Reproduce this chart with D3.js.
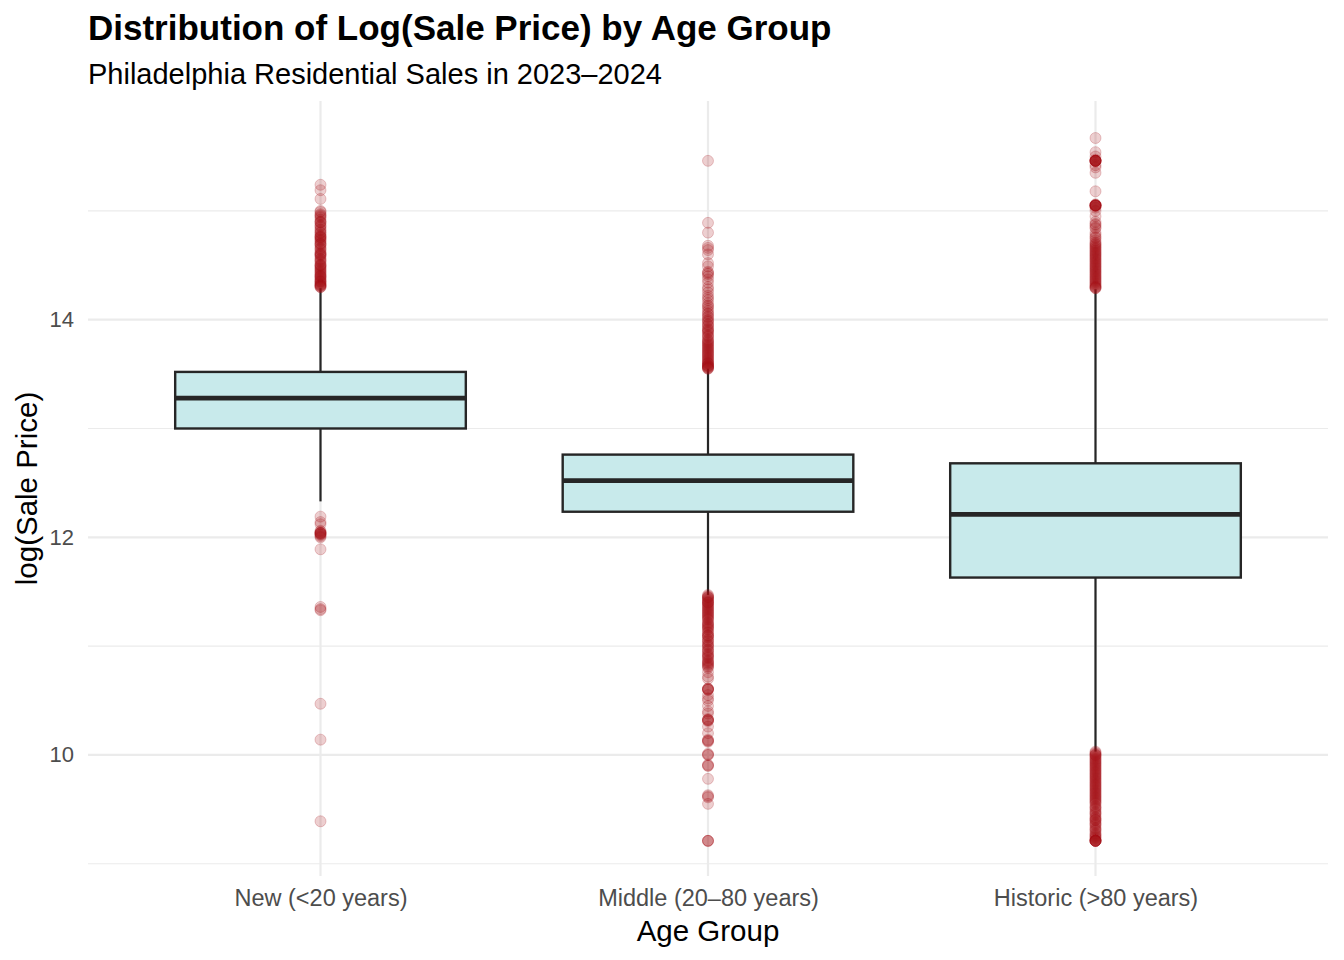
<!DOCTYPE html>
<html>
<head>
<meta charset="utf-8">
<script src="https://cdn.jsdelivr.net/npm/d3@7"></script>
<style>
  body { margin: 0; background: #fff; }
  svg { font-family: "Liberation Sans", Arial, Helvetica, sans-serif; }
</style>
</head>
<body>
<svg id="chart" width="1344" height="960"></svg>
<script>
// box stats
let groups = ["New (<20 years)", "Middle (20\u201380 years)", "Historic (>80 years)"]
let q1 = [13.0, 12.235, 11.63]
let medians = [13.28, 12.52, 12.21]
let q3 = [13.52, 12.76, 12.68]
let whiskLow = [12.33, 11.47, 10.03]
let whiskHigh = [14.29, 13.55, 14.28]

// outliers (repeats = overlapping points)
let outNew = [15.24, 15.19, 15.11,
  15.0, 14.99, 14.97, 14.96, 14.95, 14.94, 14.92, 14.9, 14.9, 14.89, 14.87, 14.86, 14.85, 14.83, 14.82, 14.8,
  14.8, 14.78, 14.77, 14.76, 14.76, 14.75, 14.74, 14.73, 14.72, 14.7, 14.7, 14.69, 14.68, 14.66, 14.65, 14.64,
  14.62, 14.61, 14.6, 14.6, 14.59, 14.58, 14.56, 14.55, 14.54, 14.53, 14.51, 14.5, 14.5, 14.49, 14.48, 14.47,
  14.46, 14.45, 14.44, 14.43, 14.42, 14.41, 14.4, 14.4, 14.39, 14.38, 14.37, 14.36, 14.35, 14.35, 14.34, 14.33,
  14.32, 14.32, 14.31, 14.31, 14.3, 14.3,
  12.19, 12.14, 12.12, 12.06, 12.05, 12.04, 12.04, 12.04, 12.03, 12.03, 12.02, 12.01, 12.0, 11.89,
  11.36, 11.34, 11.33, 10.47, 10.14, 9.39]
let outMiddle = [15.46, 14.89, 14.8, 14.68, 14.66, 14.64, 14.6, 14.52, 14.49, 14.44, 14.43, 14.42, 14.4, 14.37,
  14.34, 14.3, 14.28, 14.25, 14.22, 14.2, 14.18, 14.15, 14.13, 14.12, 14.1, 14.08, 14.06, 14.05, 14.03, 14.02,
  14.0, 13.99, 13.98, 13.96, 13.95, 13.94, 13.92, 13.91, 13.9, 13.89, 13.88, 13.86, 13.85, 13.84, 13.82, 13.81,
  13.8, 13.79, 13.78, 13.77, 13.76, 13.75, 13.74, 13.73, 13.72, 13.71, 13.7, 13.69, 13.68, 13.67, 13.66, 13.65,
  13.64, 13.63, 13.62, 13.61, 13.6, 13.6, 13.59, 13.58, 13.58, 13.57, 13.57, 13.56, 13.56, 13.55, 13.55,
  11.47, 11.46, 11.45, 11.45, 11.44, 11.43, 11.42, 11.41, 11.4, 11.4, 11.39, 11.38, 11.37, 11.36, 11.35, 11.34,
  11.33, 11.32, 11.31, 11.3, 11.29, 11.28, 11.27, 11.26, 11.25, 11.24, 11.22, 11.21, 11.2, 11.19, 11.18, 11.17,
  11.16, 11.15, 11.13, 11.12, 11.1, 11.1, 11.09, 11.08, 11.06, 11.05, 11.04, 11.02, 11.01, 11.0, 10.99, 10.97,
  10.96, 10.95, 10.93, 10.92, 10.91, 10.9, 10.89, 10.87, 10.86, 10.85, 10.84, 10.83, 10.82, 10.81, 10.8,
  10.76, 10.72, 10.7, 10.61, 10.61, 10.6, 10.6, 10.6, 10.55, 10.52, 10.5, 10.45, 10.4, 10.38, 10.33, 10.32,
  10.32, 10.32, 10.31, 10.26, 10.2, 10.14, 10.13, 10.13, 10.12, 10.01, 10.0, 10.0, 9.91, 9.9, 9.9, 9.78,
  9.63, 9.62, 9.61, 9.55, 9.21, 9.21, 9.21]
let outHistoric = [15.67, 15.54, 15.5, 15.47, 15.46, 15.46, 15.46, 15.46, 15.46, 15.46, 15.46, 15.46, 15.42,
  15.4, 15.35, 15.18, 15.06, 15.05, 15.05, 15.05, 15.05, 15.05, 15.05, 15.05, 15.05, 15.03, 15.0, 14.95, 14.9,
  14.88, 14.87, 14.85, 14.84, 14.8, 14.78, 14.76, 14.75, 14.73, 14.71, 14.7, 14.69, 14.68, 14.67, 14.66, 14.65,
  14.64, 14.63, 14.62, 14.61, 14.6, 14.59, 14.58, 14.57, 14.56, 14.55, 14.54, 14.53, 14.52, 14.51, 14.5, 14.49,
  14.48, 14.47, 14.46, 14.45, 14.44, 14.43, 14.42, 14.41, 14.4, 14.39, 14.38, 14.37, 14.36, 14.35, 14.34, 14.33,
  14.32, 14.31, 14.3, 14.3, 14.29, 14.29,
  10.03, 10.02, 10.01, 10.0, 10.0, 9.99, 9.98, 9.97, 9.96, 9.95, 9.94, 9.93, 9.92, 9.91, 9.9, 9.89, 9.88, 9.87,
  9.86, 9.85, 9.84, 9.83, 9.82, 9.81, 9.8, 9.79, 9.78, 9.77, 9.76, 9.75, 9.74, 9.73, 9.72, 9.71, 9.7, 9.69,
  9.68, 9.67, 9.66, 9.65, 9.64, 9.63, 9.62, 9.61, 9.6, 9.59, 9.58, 9.57, 9.56, 9.55, 9.53, 9.52, 9.51, 9.5,
  9.48, 9.47, 9.46, 9.45, 9.43, 9.42, 9.41, 9.4, 9.4, 9.38, 9.37, 9.36, 9.35, 9.33, 9.32, 9.31, 9.3, 9.28,
  9.27, 9.26, 9.25, 9.24, 9.23, 9.22, 9.21, 9.21, 9.21, 9.21, 9.21, 9.21, 9.21]
let outliers = [outNew, outMiddle, outHistoric]

let yTicks = [10, 12, 14]
let yMinor = [9, 11, 13, 15]

let svg = d3.select("#chart")
let pLeft = 88, pRight = 1328, pTop = 101, pBottom = 876

let x = d3.scalePoint().domain(groups).range([pLeft, pRight]).padding(0.6)
let y = d3.scaleLinear().domain([8.887, 16.01]).range([pBottom, pTop])
let boxW = x.step() * 0.75

let grid = svg.append("g")
grid.selectAll(".minor").data(yMinor).enter().append("line")
  .attr("x1", pLeft).attr("x2", pRight)
  .attr("y1", d => y(d)).attr("y2", d => y(d))
  .attr("stroke", "#ebebeb").attr("stroke-width", 1.1)
grid.selectAll(".major").data(yTicks).enter().append("line")
  .attr("x1", pLeft).attr("x2", pRight)
  .attr("y1", d => y(d)).attr("y2", d => y(d))
  .attr("stroke", "#ebebeb").attr("stroke-width", 2.2)
grid.selectAll(".vmajor").data(groups).enter().append("line")
  .attr("x1", d => x(d)).attr("x2", d => x(d))
  .attr("y1", pTop).attr("y2", pBottom)
  .attr("stroke", "#ebebeb").attr("stroke-width", 2.2)

// axes, no domain line or ticks
let yAxis = svg.append("g").attr("transform", `translate(${pLeft},0)`)
  .call(d3.axisLeft(y).tickValues(yTicks).tickSize(0).tickPadding(14))
let xAxis = svg.append("g").attr("transform", `translate(0,${pBottom})`)
  .call(d3.axisBottom(x).tickSize(0).tickPadding(13))
yAxis.select(".domain").remove()
xAxis.select(".domain").remove()
svg.selectAll(".tick text").attr("fill", "#4d4d4d")
  .attr("font-family", "Liberation Sans, Arial, sans-serif")
yAxis.selectAll(".tick text").attr("font-size", 22)
xAxis.selectAll(".tick text").attr("font-size", 23.5)

let boxes = svg.append("g")
groups.forEach(function(g, i) {
  let cx = x(g)
  boxes.append("line")
    .attr("x1", cx).attr("x2", cx)
    .attr("y1", y(q3[i])).attr("y2", y(whiskHigh[i]))
    .attr("stroke", "#262626").attr("stroke-width", 2.2)
  boxes.append("line")
    .attr("x1", cx).attr("x2", cx)
    .attr("y1", y(q1[i])).attr("y2", y(whiskLow[i]))
    .attr("stroke", "#262626").attr("stroke-width", 2.2)
  boxes.selectAll(null).data(outliers[i]).enter().append("circle")
    .attr("cx", cx).attr("cy", d => y(d)).attr("r", 5.5)
    .attr("fill", "#a50f15").attr("fill-opacity", 0.2)
    .attr("stroke", "#a50f15").attr("stroke-opacity", 0.22).attr("stroke-width", 1)
  boxes.append("rect")
    .attr("x", cx - boxW / 2).attr("width", boxW)
    .attr("y", y(q3[i])).attr("height", y(q1[i]) - y(q3[i]))
    .attr("fill", "#c8eaeb").attr("stroke", "#262626").attr("stroke-width", 2.4)
  boxes.append("line")
    .attr("x1", cx - boxW / 2).attr("x2", cx + boxW / 2)
    .attr("y1", y(medians[i])).attr("y2", y(medians[i]))
    .attr("stroke", "#262626").attr("stroke-width", 4.8)
})

svg.append("text").attr("x", pLeft).attr("y", 40)
  .attr("font-size", 35).attr("font-weight", "bold").attr("fill", "#000")
  .text("Distribution of Log(Sale Price) by Age Group")
svg.append("text").attr("x", pLeft).attr("y", 84)
  .attr("font-size", 29).attr("fill", "#000")
  .text("Philadelphia Residential Sales in 2023\u20132024")
svg.append("text").attr("x", (pLeft + pRight) / 2).attr("y", 941)
  .attr("text-anchor", "middle").attr("font-size", 29.5).attr("fill", "#000")
  .text("Age Group")
svg.append("text")
  .attr("transform", `translate(37,${(pTop + pBottom) / 2}) rotate(-90)`)
  .attr("text-anchor", "middle").attr("font-size", 29.5).attr("fill", "#000")
  .text("log(Sale Price)")
</script>
</body>
</html>
